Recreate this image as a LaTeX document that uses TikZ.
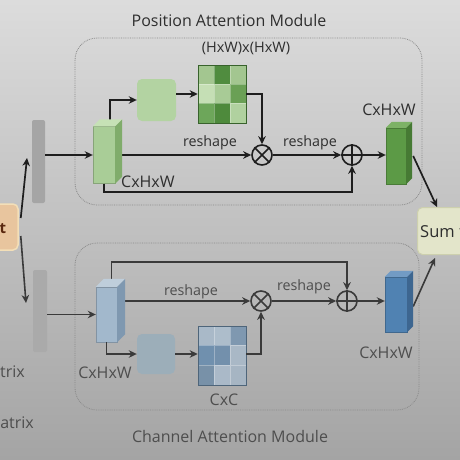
\documentclass[tikz,border=0pt]{standalone}
\usepackage{fontspec}
\setmainfont{Open Sans}
\usetikzlibrary{arrows.meta,calc}
\definecolor{bgtop}{HTML}{DCDCDC}
\definecolor{bgmid}{HTML}{D3D3D3}
\definecolor{bgbot}{HTML}{A4A4A4}
\definecolor{linetop}{HTML}{1E1E1E}
\definecolor{linebot}{HTML}{3A3A3A}
\definecolor{txttop}{HTML}{2E2E2E}
\definecolor{txtbot}{HTML}{4E4E4E}
\definecolor{dotc}{HTML}{8A8A8A}
% cuboid colours
\definecolor{lgF}{HTML}{A9CD97}\definecolor{lgT}{HTML}{C6E1B6}\definecolor{lgS}{HTML}{80AC6B}
\definecolor{dgF}{HTML}{5C9A46}\definecolor{dgT}{HTML}{7DB266}\definecolor{dgS}{HTML}{467A34}
\definecolor{lbF}{HTML}{A2B8CC}\definecolor{lbT}{HTML}{BFCEDB}\definecolor{lbS}{HTML}{7F98B0}
\definecolor{dbF}{HTML}{5082B2}\definecolor{dbT}{HTML}{729BC4}\definecolor{dbS}{HTML}{3D6690}
\definecolor{sqg}{HTML}{B3D3A2}
\definecolor{sqb}{HTML}{9CAEB9}
\definecolor{barc}{HTML}{A5A5A5}
\definecolor{inpF}{HTML}{E8C59E}\definecolor{inpD}{HTML}{F3DFB8}
\definecolor{sumF}{HTML}{E3E5CA}\definecolor{sumD}{HTML}{CDD0AE}
% matrix cells
\definecolor{ga}{HTML}{A3C690}\definecolor{gb}{HTML}{508C3F}\definecolor{gc}{HTML}{C5DFB5}
\definecolor{gd}{HTML}{A8CB96}\definecolor{ge}{HTML}{6AA055}\definecolor{gf}{HTML}{6DA65A}
\definecolor{gg}{HTML}{4E8A3C}\definecolor{gh}{HTML}{B0D19F}
\definecolor{ba}{HTML}{A9B9C8}\definecolor{bb}{HTML}{ADBDCB}\definecolor{bc}{HTML}{7F98B0}
\definecolor{bd}{HTML}{7090AE}\definecolor{be}{HTML}{7390AC}\definecolor{bf}{HTML}{A9B8C6}
\definecolor{bg}{HTML}{7891A8}\definecolor{bh}{HTML}{AAB9C8}\definecolor{bi}{HTML}{A6B5C3}
\tikzset{
  arrtop/.style={-{Stealth[length=8pt,width=7.5pt,inset=2.5pt]}, line width=1.7pt, draw=linetop},
  arrbot/.style={-{Stealth[length=8pt,width=7.5pt,inset=2.5pt]}, line width=1.6pt, draw=linebot},
  lbltop/.style={font=\fontsize{16}{18}\selectfont, text=txttop, inner sep=0pt},
  lblbot/.style={font=\fontsize{16}{18}\selectfont, text=txtbot, inner sep=0pt},
  rsh/.style={font=\fontsize{14.3}{16}\selectfont},
  cubefront/.style={rectangle, inner sep=0pt, draw=#1!80!black, line width=0.4pt},
  opcirc/.style={circle, minimum size=20pt, inner sep=0pt, line width=1.6pt},
  sqbox/.style={rectangle, rounded corners=5pt, inner sep=0pt},
  matbox/.style={rectangle, inner sep=0pt, draw=#1, line width=0.5pt},
  modbox/.style={draw=dotc, densely dotted, line width=0.8pt, rounded corners=22pt},
  barbox/.style={rectangle, rounded corners=2pt, fill=barc, inner sep=0pt},
}
\newcommand\cubesides[4]{% node, depth, top colour, side colour
  \fill[#3] (#1.north west) -- ++(#2,-#2) -- ($(#1.north east)+(#2,-#2)$) -- (#1.north east) -- cycle;
  \fill[#4] (#1.north east) -- ($(#1.north east)+(#2,-#2)$) -- ($(#1.south east)+(#2,-#2)$) -- (#1.south east) -- cycle;
}
\begin{document}
\begin{tikzpicture}[x=1pt,y=-1pt]
\useasboundingbox (0,0) rectangle (460,460);
\clip (0,0) rectangle (460,460);
\shade[top color=bgtop, middle color=bgmid, bottom color=bgbot] (0,0) rectangle (460,460);

% module frames
\draw[modbox] (75,38) rectangle (422,205);
\draw[modbox] (75,243) rectangle (419,410);
\node[lbltop] (tPAM) at (229,21) {Position Attention Module};
\node[lblbot] (tCAM) at (230,436) {Channel Attention Module};

% left side
\node[rectangle, rounded corners=5pt, fill=inpF, draw=inpD, line width=1.5pt, minimum width=40pt, minimum height=46pt, inner sep=0pt] (inp) at (-2,227) {};
\node[font=\fontsize{15}{17}\selectfont\bfseries, text={rgb,255:red,90;green,40;blue,15}, inner sep=0pt] (inpt) at (3,229) {t};
\node[barbox, minimum width=13pt, minimum height=83pt] (bar1) at (38.5,161.5) {};
\node[barbox, minimum width=14pt, minimum height=82pt, fill=barc!95!white] (bar2) at (40,311) {};
\node[lblbot, anchor=east] (trix1) at (25,372) {trix};
\node[lblbot, anchor=east] (trix2) at (34,423) {atrix};
\coordinate (iu0) at ($(inp.east)+(2,-9)$);
\coordinate (iu1) at (27,158);
\coordinate (id0) at ($(inp.east)+(2,9)$);
\coordinate (id1) at (26,303);

% sum box
\node[rectangle, rounded corners=5pt, fill=sumF, draw=sumD, line width=1pt, minimum width=70pt, minimum height=47pt, inner sep=0pt, anchor=north west] (sum) at (417,207) {};
\node[lbltop, anchor=west, font=\fontsize{16.5}{18}\selectfont] (sumt) at (420,231) {Sum f};

% ---------- position attention ----------
\node[cubefront=lgF, fill=lgF, minimum width=22pt, minimum height=57pt] (g1) at (104,155) {};
\node[sqbox, fill=sqg, minimum width=39pt, minimum height=42pt] (sq1) at (156.5,100) {};
\node[matbox=gb!70!black, minimum width=48pt, minimum height=58pt] (mat1) at (222,94) {};
\node[opcirc, draw=linetop] (m1) at (262,155) {};
\node[opcirc, draw=linetop] (p1) at (352,155) {};
\node[cubefront=dgF, fill=dgF, minimum width=20pt, minimum height=56pt] (dg1) at (396,156) {};

\foreach \col [count=\i from 0] in {ga,gb,ga,gc,gd,ge,gf,gg,gh} {
  \pgfmathtruncatemacro\rr{div(\i,3)}
  \pgfmathtruncatemacro\cc{mod(\i,3)}
  \fill[\col, draw=white!30!\col, line width=0.4pt] ($(mat1.north west)+(\cc*16,\rr*19.333)$) rectangle ++(16,19.333);
}
\draw[gb!70!black, line width=0.5pt] (mat1.north west) rectangle (mat1.south east);

\draw[linetop, line width=1.6pt] (m1.north west) -- (m1.south east) (m1.north east) -- (m1.south west);
\draw[linetop, line width=1.6pt] (p1.north) -- (p1.south) (p1.west) -- (p1.east);

\draw[arrtop] (bar1.east |- g1.west) -- (g1.west);
\draw[arrtop] ([xshift=6pt,yshift=6pt]g1.north) |- (sq1.west);
\draw[arrtop] (sq1.east |- mat1.east) -- (mat1.west);
\draw[arrtop] (mat1.east) -| (m1.north);
\draw[arrtop] (g1.east) -- (m1.west);
\draw[arrtop] (m1.east) -- (p1.west);
\draw[arrtop] (p1.east) -- (dg1.west |- p1.east);
\draw[arrtop] (g1.south) -- ++(0,8) -| (p1.south);
\draw[arrtop] ([xshift=7pt]dg1.east) -- ($(sum.north west)+(20,0)$);
\draw[arrtop] (iu0) -- (iu1);

\cubesides{g1}{7}{lgT}{lgS}
\cubesides{dg1}{6}{dgT}{dgS}

\node[lbltop, font=\fontsize{14.5}{16}\selectfont] (lHW) at (246,48) {(HxW)x(HxW)};
\node[lbltop, anchor=west] (lg1) at (121,182) {CxHxW};
\node[lbltop, rsh] (lr1) at (210,143) {reshape};
\node[lbltop, rsh] (lr2) at (310,143) {reshape};
\node[lbltop] (ldg1) at (389,110) {CxHxW};

% ---------- channel attention ----------
\node[cubefront=lbF, fill=lbF, minimum width=21pt, minimum height=55pt] (b1) at (106.5,314.5) {};
\node[sqbox, fill=sqb, minimum width=38pt, minimum height=40pt] (sq2) at (156,354) {};
\node[matbox=bd!70!black, minimum width=48pt, minimum height=59pt] (mat2) at (222,355.5) {};
\node[opcirc, draw=linebot] (m2) at (261,301) {};
\node[opcirc, draw=linebot] (p2) at (347,301) {};
\node[cubefront=dbF, fill=dbF, minimum width=22pt, minimum height=55pt] (db1) at (396,304.5) {};

\foreach \col [count=\i from 0] in {ba,bb,bc,bd,be,bf,bg,bh,bi} {
  \pgfmathtruncatemacro\rr{div(\i,3)}
  \pgfmathtruncatemacro\cc{mod(\i,3)}
  \fill[\col, draw=white!30!\col, line width=0.4pt] ($(mat2.north west)+(\cc*16,\rr*19.667)$) rectangle ++(16,19.667);
}
\draw[bd!70!black, line width=0.5pt] (mat2.north west) rectangle (mat2.south east);

\draw[linebot, line width=1.5pt] (m2.north west) -- (m2.south east) (m2.north east) -- (m2.south west);
\draw[linebot, line width=1.5pt] (p2.north) -- (p2.south) (p2.west) -- (p2.east);

\draw[arrbot] (bar2.east |- b1.west) -- (b1.west);
\draw[arrbot] ([xshift=5pt]b1.north) -- ++(0,-25) -| (p2.north);
\draw[arrbot] (b1.east |- m2.west) -- (m2.west);
\draw[arrbot] (b1.south) |- (sq2.west);
\draw[arrbot] (sq2.east) -- (mat2.west |- sq2.east);
\draw[arrbot] (mat2.east |- sq2.east) -| (m2.south);
\draw[arrbot] (m2.east) -- (p2.west);
\draw[arrbot] (p2.east) -- (db1.west |- p2.east);
\draw[arrbot] ([xshift=6pt,yshift=-2pt]db1.east) -- ($(sum.south west)+(18,3)$);
\draw[arrbot] (id0) -- (id1);

\cubesides{b1}{8}{lbT}{lbS}
\cubesides{db1}{6}{dbT}{dbS}

\node[lblbot, rsh] (lr3) at (191,292) {reshape};
\node[lblbot, rsh] (lr4) at (304,287) {reshape};
\node[lblbot] (lb1) at (105,373) {CxHxW};
\node[lblbot] (ldb1) at (386,353) {CxHxW};
\node[lblbot] (lCC) at (224,400) {CxC};
\end{tikzpicture}
\end{document}
